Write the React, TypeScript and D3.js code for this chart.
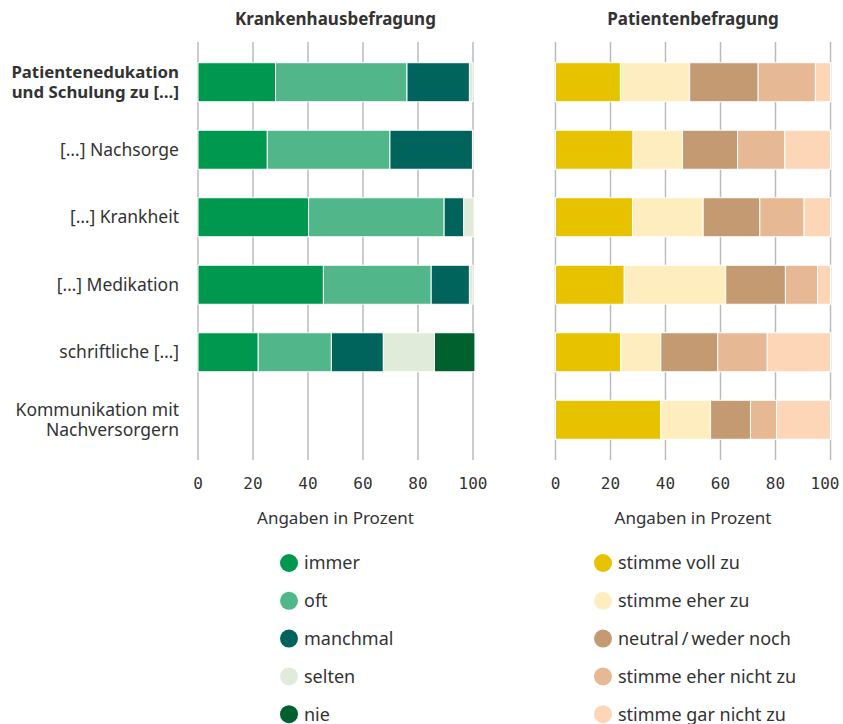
import * as d3 from 'd3'

const categories = [
  'Patientenedukation\nund Schulung zu […]',
  '[…] Nachsorge',
  '[…] Krankheit',
  '[…] Medikation',
  'schriftliche […]',
  'Kommunikation mit\nNachversorgern',
]

// Krankenhausbefragung (percent)
const hospitalKeys = ['immer', 'oft', 'manchmal', 'selten', 'nie']
const immer = [28.2, 25.2, 40.2, 45.6, 21.9, 0]
const oft = [47.8, 44.6, 49.3, 39.2, 26.6, 0]
const manchmal = [22.7, 30, 7.1, 13.9, 18.9, 0]
const selten = [1.3, 0.2, 3.8, 1.3, 18.6, 0]
const nie = [0, 0, 0, 0, 14.7, 0]

// Patientenbefragung (percent)
const patientKeys = ['stimme voll zu', 'stimme eher zu', 'neutral\u2009/\u2009weder noch', 'stimme eher nicht zu', 'stimme gar nicht zu']
const vollZu = [23.6, 28.2, 28, 25, 23.7, 38.3]
const eherZu = [25.2, 18, 25.7, 36.9, 14.6, 18.1]
const neutral = [24.9, 20, 20.6, 21.7, 20.7, 14.5]
const eherNicht = [20.8, 17.2, 16.1, 11.7, 18, 9.5]
const garNicht = [5.5, 16.6, 9.6, 4.7, 23, 19.6]

const ticks = [0, 20, 40, 60, 80, 100]

const hospitalColors = ['#00984f', '#52b68b', '#00645c', '#e0ecd9', '#00612f']
const patientColors = ['#e6c200', '#feeebf', '#c39a71', '#e6b994', '#fcd6b6']

const FONT = '"Noto Sans", "Open Sans", sans-serif'
const MONO = '"DejaVu Sans Mono", monospace'
const WIDTH = 843

type Row = Record<string, number | string>

function buildRows(keys: string[], series: number[][]): Row[] {
  return categories.map((c, i) => {
    const r: Row = { cat: c }
    keys.forEach((k, j) => (r[k] = series[j][i]))
    return r
  })
}

const y = d3
  .scaleBand<string>()
  .domain(categories)
  .range([42, 460])
  .paddingInner(0.422)
  .paddingOuter(0.307)

function Panel({
  x0,
  title,
  keys,
  series,
  colors,
}: {
  x0: number
  title: string
  keys: string[]
  series: number[][]
  colors: string[]
}) {
  const x = d3.scaleLinear().domain([0, 100]).range([x0, x0 + 275])
  const stack = d3.stack<Row>().keys(keys).value((d, k) => d[k] as number)
  const layers = stack(buildRows(keys, series))
  const mid = x0 + 137.5

  return (
    <g>
      <text x={mid} y={25} textAnchor="middle" fontSize={17} fontWeight={700} fill="#333">
        {title}
      </text>
      {ticks.map((t) => (
        <g key={t}>
          <line x1={x(t)} x2={x(t)} y1={42} y2={460} stroke="#bbb" strokeWidth={1.5} />
          <text
            x={Math.min(x(t), WIDTH - 18)}
            y={489}
            textAnchor="middle"
            fontFamily={MONO}
            fontSize={16}
            fill="#333"
          >
            {t}
          </text>
        </g>
      ))}
      {layers.map((layer, li) => (
        <g key={layer.key} fill={colors[li]}>
          {layer.map((d, i) =>
            d[1] - d[0] > 0 ? (
              <rect
                key={i}
                x={x(d[0])}
                y={y(categories[i])}
                width={x(d[1]) - x(d[0])}
                height={y.bandwidth()}
                stroke="#fff"
                strokeWidth={1}
              />
            ) : null
          )}
        </g>
      ))}
      <text x={mid} y={524} textAnchor="middle" fontSize={17} fill="#333">
        Angaben in Prozent
      </text>
    </g>
  )
}

function Legend({ x0, keys, colors }: { x0: number; keys: string[]; colors: string[] }) {
  return (
    <g>
      {keys.map((k, i) => (
        <g key={k} transform={`translate(${x0},${563 + i * 37.8})`}>
          <circle r={9} fill={colors[i]} />
          <text x={15} dy="0.35em" fontSize={18} fill="#333">
            {k}
          </text>
        </g>
      ))}
    </g>
  )
}

export default function App() {
  return (
    <svg
      width={WIDTH}
      height={724}
      style={{ position: 'absolute', left: 0, top: 0, background: '#fff' }}
      fontFamily={FONT}
    >
      {categories.map((c, i) => {
        const lines = c.split('\n')
        const cy = (y(c) as number) + y.bandwidth() / 2
        const lh = 19.5
        return (
          <g key={c}>
            {lines.map((l, j) => (
              <text
                key={j}
                x={179}
                y={cy - ((lines.length - 1) * lh) / 2 + j * lh}
                dy="0.35em"
                textAnchor="end"
                fontSize={i === 0 ? 16.8 : 17.5}
                fontWeight={i === 0 ? 700 : 400}
                fill="#333"
              >
                {l}
              </text>
            ))}
          </g>
        )
      })}
      <Panel
        x0={198}
        title="Krankenhausbefragung"
        keys={hospitalKeys}
        series={[immer, oft, manchmal, selten, nie]}
        colors={hospitalColors}
      />
      <Panel
        x0={555.5}
        title="Patientenbefragung"
        keys={patientKeys}
        series={[vollZu, eherZu, neutral, eherNicht, garNicht]}
        colors={patientColors}
      />
      <Legend x0={289} keys={hospitalKeys} colors={hospitalColors} />
      <Legend x0={603} keys={patientKeys} colors={patientColors} />
    </svg>
  )
}
